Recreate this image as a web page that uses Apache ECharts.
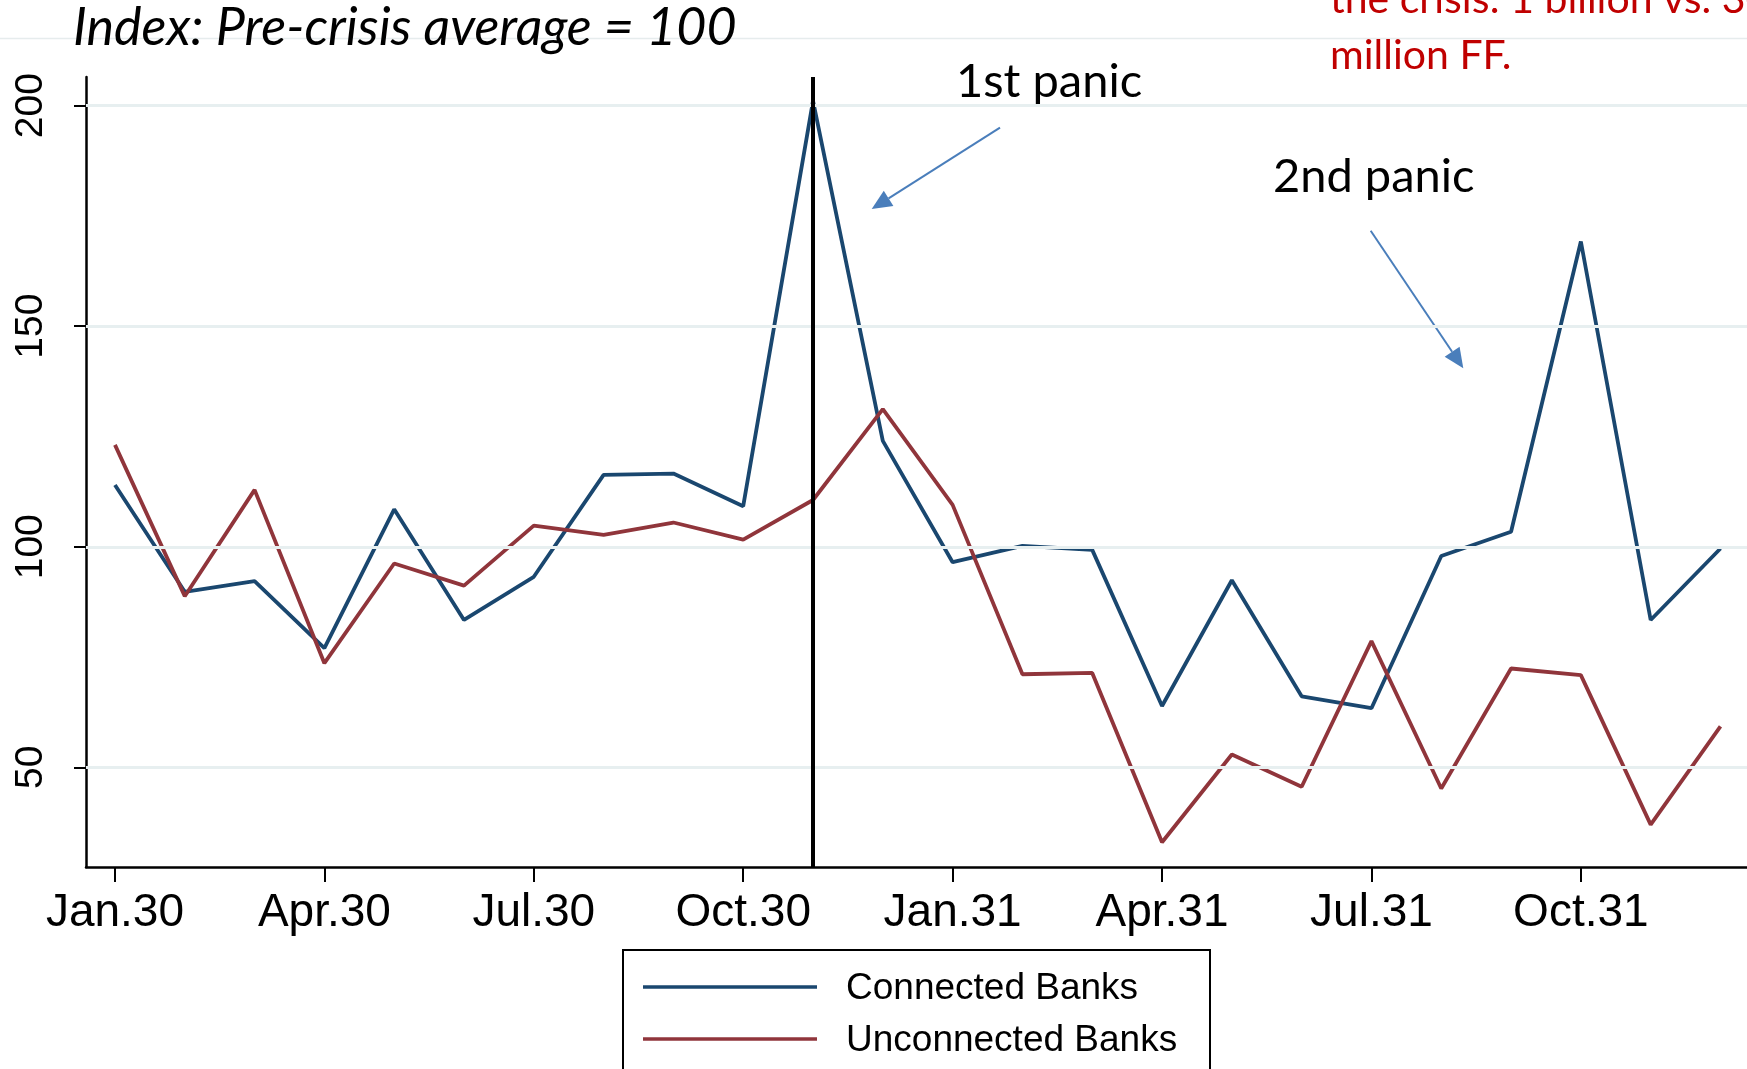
<!DOCTYPE html>
<html>
<head>
<meta charset="utf-8">
<script src="https://cdn.jsdelivr.net/npm/echarts@6/dist/echarts.min.js"></script>
<style>
  html, body { margin: 0; padding: 0; background: #fff; }
  #chart { width: 1747px; height: 1069px; }
</style>
</head>
<body>
<div id="chart"></div>
<script>
// Monthly deposit index, Jan 1930 - Dec 1931 (pre-crisis average = 100)
const months = [
  'Jan.30', 'Feb.30', 'Mar.30', 'Apr.30', 'May.30', 'Jun.30',
  'Jul.30', 'Aug.30', 'Sep.30', 'Oct.30', 'Nov.30', 'Dec.30',
  'Jan.31', 'Feb.31', 'Mar.31', 'Apr.31', 'May.31', 'Jun.31',
  'Jul.31', 'Aug.31', 'Sep.31', 'Oct.31', 'Nov.31', 'Dec.31'
];
const connected = [
  114.0, 89.8, 92.2, 77.0, 108.5, 83.4,
  93.2, 116.3, 116.6, 109.2, 201.1, 124.0,
  96.5, 100.2, 99.3, 63.9, 92.4, 66.1,
  63.4, 97.9, 103.4, 169.2, 83.4, 99.6
];
const unconnected = [
  123.1, 88.8, 112.9, 73.6, 96.2, 91.2,
  104.8, 102.7, 105.5, 101.6, 110.6, 131.2,
  109.5, 71.1, 71.4, 33.0, 52.9, 45.6,
  78.6, 45.2, 72.4, 70.9, 37.0, 59.3
];
const seriesNames = ['Connected Banks', 'Unconnected Banks'];
const xTickLabels = ['Jan.30', 'Apr.30', 'Jul.30', 'Oct.30', 'Jan.31', 'Apr.31', 'Jul.31', 'Oct.31'];
const yTickValues = [50, 100, 150, 200];
const crisisMonth = 'Nov.30';

const xTickValues = xTickLabels.map(l => months.indexOf(l));
const toPoints = arr => arr.map((v, i) => [i, v]);

const BLUE = '#1a476f';
const RED = '#90353b';
const ARROW = '#4a7ebb';
const LINE_W = 3.8;

// straight arrow with a filled triangular head, in pixel space
function arrow(x1, y1, x2, y2) {
  const dx = x2 - x1, dy = y2 - y1;
  const len = Math.hypot(dx, dy);
  const ux = dx / len, uy = dy / len;
  const headL = 20, headW = 9;
  const bx = x2 - ux * headL, by = y2 - uy * headL;
  return [
    { type: 'line', silent: true, shape: { x1, y1, x2: bx, y2: by },
      style: { stroke: ARROW, lineWidth: 2 } },
    { type: 'polygon', silent: true,
      shape: { points: [[x2, y2], [bx - uy * headW, by + ux * headW], [bx + uy * headW, by - ux * headW]] },
      style: { fill: ARROW } }
  ];
}

// boxed key below the plot, running off the bottom edge
function legendBox() {
  const left = 623, top = 950, width = 587;
  const rows = [
    { name: seriesNames[0], color: BLUE, y: 987 },
    { name: seriesNames[1], color: RED, y: 1039 }
  ];
  const els = [
    { type: 'rect', silent: true, shape: { x: left, y: top, width, height: 200 },
      style: { fill: '#fff', stroke: '#000', lineWidth: 2 } }
  ];
  rows.forEach(r => {
    els.push({ type: 'line', silent: true, shape: { x1: 643, y1: r.y, x2: 817, y2: r.y },
      style: { stroke: r.color, lineWidth: 3.5 } });
    els.push({ type: 'text', silent: true, x: 846, y: r.y + 2,
      style: { text: r.name, font: '37px "Liberation Sans"', fill: '#000',
               align: 'left', verticalAlign: 'middle' } });
  });
  return els;
}

const chart = echarts.init(document.getElementById('chart'), null, { renderer: 'canvas' });

const axisFont = 'Liberation Sans';

chart.setOption({
  animation: false,
  backgroundColor: '#fff',
  grid: { left: 86, right: 0, top: 77, bottom: 202, containLabel: false },
  xAxis: {
    type: 'value',
    min: -0.415,
    max: 23.38,
    axisLine: { show: true, onZero: false, lineStyle: { color: '#000', width: 2.5 } },
    axisTick: { show: true, customValues: xTickValues, length: 15, lineStyle: { color: '#000', width: 2 } },
    axisLabel: {
      customValues: xTickValues,
      formatter: v => months[Math.round(v)],
      fontFamily: axisFont, fontSize: 46, color: '#000', margin: 23
    },
    splitLine: { show: false }
  },
  yAxis: {
    type: 'value',
    min: 27.4,
    max: 206.5,
    axisLine: { show: true, onZero: false, lineStyle: { color: '#000', width: 2.5 } },
    axisTick: { show: true, customValues: yTickValues, length: 12, lineStyle: { color: '#000', width: 2 } },
    axisLabel: {
      customValues: yTickValues,
      rotate: 90,
      fontFamily: axisFont, fontSize: 39, color: '#000', margin: 35
    },
    splitLine: { show: false }
  },
  series: [
    {
      // horizontal reference lines at the labelled ticks
      type: 'line', name: 'grid', data: [], z: 1, silent: true,
      markLine: {
        silent: true, symbol: ['none', 'none'], animation: false,
        label: { show: false },
        lineStyle: { color: '#e7eff0', width: 3, type: 'solid' },
        emphasis: { disabled: true },
        data: yTickValues.map(v => ({ yAxis: v }))
      }
    },
    {
      name: seriesNames[0], type: 'line', data: toPoints(connected), z: 3,
      symbol: 'none', lineStyle: { color: BLUE, width: LINE_W }, itemStyle: { color: BLUE },
      emphasis: { disabled: true }
    },
    {
      name: seriesNames[1], type: 'line', data: toPoints(unconnected), z: 3,
      symbol: 'none', lineStyle: { color: RED, width: LINE_W }, itemStyle: { color: RED },
      emphasis: { disabled: true }
    },
    {
      // start of the crisis
      type: 'line', name: 'crisis', data: [], z: 5, silent: true,
      markLine: {
        silent: true, symbol: ['none', 'none'], animation: false,
        label: { show: false },
        lineStyle: { color: '#000', width: 4, type: 'solid' },
        emphasis: { disabled: true },
        data: [{ xAxis: months.indexOf(crisisMonth) }]
      }
    }
  ],
  graphic: [
    { type: 'line', silent: true, shape: { x1: 0, y1: 38.5, x2: 1747, y2: 38.5 },
      style: { stroke: '#e6eced', lineWidth: 1.5 } },
    { type: 'text', silent: true, x: 73, y: 28,
      style: { text: 'Index: Pre-crisis average = 100', font: 'italic 52px Lato', fill: '#000',
               align: 'left', verticalAlign: 'middle' } },
    { type: 'text', silent: true, x: 1330, y: 0,
      style: { text: 'the crisis: 1 billion vs. 300', font: '41px Lato', fill: '#c00000',
               align: 'left', verticalAlign: 'middle' } },
    { type: 'text', silent: true, x: 1330, y: 56,
      style: { text: 'million FF.', font: '41px Lato', fill: '#c00000',
               align: 'left', verticalAlign: 'middle' } },
    { type: 'text', silent: true, x: 956, y: 82,
      style: { text: '1st panic', font: '47px Lato', fill: '#000',
               align: 'left', verticalAlign: 'middle' } },
    { type: 'text', silent: true, x: 1273, y: 177,
      style: { text: '2nd panic', font: '47px Lato', fill: '#000',
               align: 'left', verticalAlign: 'middle' } },
    ...arrow(1000, 127.7, 871.7, 209),
    ...arrow(1370.7, 230.7, 1463.3, 368.3),
    ...legendBox()
  ]
});
</script>
</body>
</html>
